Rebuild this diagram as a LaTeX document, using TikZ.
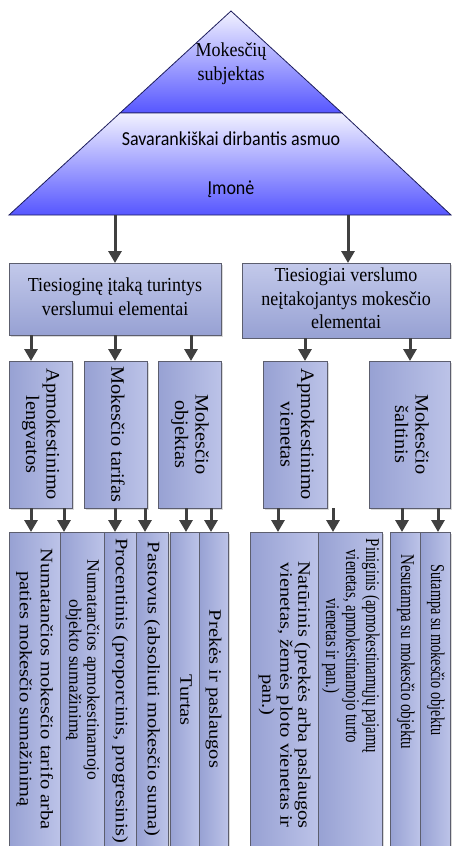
\documentclass[tikz,border=0pt]{standalone}
\usepackage{fontspec}
\setmainfont{Liberation Serif}
\newfontfamily\calibrifont{Carlito}
\usetikzlibrary{arrows.meta,shadows}

\definecolor{pyrtop}{HTML}{F2F2FF}
\definecolor{pyrbot}{HTML}{5656FF}
\definecolor{pyrline}{HTML}{1C1C5C}
\definecolor{boxlight}{HTML}{BCC3E8}
\definecolor{boxdark}{HTML}{97A1D3}
\definecolor{boxline}{HTML}{5C5E6E}
\definecolor{arrgray}{HTML}{404040}

% vertical text, written top to bottom (optional stretch along the text)
\newcommand{\vtxt}[2][1.17]{\rotatebox{-90}{\scalebox{#1}[1]{\begin{tabular}{@{}c@{}}#2\end{tabular}}}}
% horizontal text, a bit taller
\newcommand{\htxt}[1]{\scalebox{1}[1.1]{\begin{tabular}{@{}c@{}}#1\end{tabular}}}

\tikzset{
	pyr/.style={draw=pyrline, line width=0.8pt, top color=pyrtop, bottom color=pyrbot},
	ptext/.style={inner sep=0pt, font=\fontsize{18}{21.5}\selectfont},
	stext/.style={inner sep=0pt, font=\calibrifont\fontsize{18}{21}\selectfont},
	hbox/.style={draw=boxline, line width=0.8pt, top color=boxlight!90!white, bottom color=boxdark,
		anchor=north west, inner sep=2pt, outer sep=0pt, align=center,
		font=\fontsize{18}{21.5}\selectfont,
		drop shadow={shadow xshift=1.5pt, shadow yshift=-1.5pt, opacity=.3}},
	vbox/.style={hbox, left color=boxdark, right color=boxlight, font=\fontsize{19}{20.5}\selectfont},
	ltext/.style={inner sep=0pt, font=\fontsize{17.5}{21}\selectfont},
	lsmall/.style={ltext, font=\fontsize{17.5}{18}\selectfont},
	lbig/.style={ltext, font=\fontsize{19.5}{20}\selectfont},
	arr/.style={draw=arrgray, line width=3pt, -{Triangle[width=13pt,length=12pt]}},
}

\begin{document}
\begin{tikzpicture}[x=1pt, y=-1pt]
\useasboundingbox (0,0) rectangle (451,846);

% pyramid
\coordinate (apex) at (231,11);
\coordinate (ml) at (120,113);
\coordinate (mr) at (342,113);
\coordinate (bl) at (9,215);
\coordinate (br) at (451,215);
\draw[pyr] (apex) -- (mr) -- (ml) -- cycle;
\draw[pyr] (ml) -- (mr) -- (br) -- (bl) -- cycle;

\node[ptext] (subj) at (231,64) {\htxt{Mokesčių\\subjektas}};
\node[stext] (asmuo) at (231,141) {\htxt{Savarankiškai dirbantis asmuo}};
\node[stext] (imone) at (231,190) {\htxt{Įmonė}};

% two groups
\node[hbox, minimum width=212, minimum height=72] (tiesiog) at (9,263) {\htxt{Tiesioginę įtaką turintys\\verslumui elementai}};
\node[hbox, minimum width=208, minimum height=72] (netiesiog) at (242,263) {\htxt{Tiesiogiai verslumo\\neįtakojantys mokesčio\\elementai}};

% elements
\node[vbox, minimum width=63, minimum height=147] (lengv) at (9,361) {\vtxt[1.07]{Apmokestinimo\\lengvatos}};
\node[vbox, minimum width=63, minimum height=147] (tarif) at (84,361) {\vtxt[1.07]{Mokesčio tarifas}};
\node[vbox, minimum width=63, minimum height=147] (objekt) at (158,361) {\vtxt[1.07]{Mokesčio\\objektas}};
\node[vbox, minimum width=64, minimum height=147] (vienet) at (263,361) {\vtxt[1.07]{Apmokestinimo\\vienetas}};
\node[vbox, minimum width=81, minimum height=147] (saltin) at (369,361) {\vtxt[1.07]{Mokesčio\\šaltinis}};

% leaves
\foreach \n/\x/\w in {l1/9/51, l2/60/44, l3/104/32, l4/136/32, l5/170/29,
	l6/199/29, l7/250/68, l8/318/64, l9/390/30, l10/420/30}{
	\node[vbox, minimum width=\w, minimum height=320] (\n) at (\x,532) {};
}

\node[ltext] (t1) at (l1.north |- 0,689) {\vtxt{Numatančios mokesčio tarifo arba\\paties mokesčio sumažinimą}};
\node[lsmall] (t2) at (l2.north |- 0,670) {\vtxt[1.0]{Numatančios apmokestinamojo\\objekto sumažinimą}};
\node[ltext] (t3) at (l3.north |- 0,691) {\vtxt{Procentinis (proporcinis, progresinis)}};
\node[ltext] (t4) at (l4.north |- 0,689) {\vtxt{Pastovus (absoliuti mokesčio suma)}};
\node[ltext] (t5) at (l5.north |- 0,700) {\vtxt{Turtas}};
\node[ltext] (t6) at (l6.north |- 0,689) {\vtxt{Prekės ir paslaugos}};
\node[lsmall] (t7) at (l7.north |- 0,695) {\vtxt{Natūrinis (prekės arba paslaugos\\vienetas, žemės ploto vienetas ir\\pan.)}};
\node[lbig] (t8) at (l8.north |- 0,646) {\vtxt[0.76]{Piniginis (apmokestinamųjų pajamų\\vienetas, apmokestinamojo turto\\vienetas ir pan.)}};
\node[lbig] (t9) at (l9.north |- 0,652) {\vtxt[0.77]{Nesutampa su mokesčio objektu}};
\node[lbig] (t10) at (l10.north |- 0,650) {\vtxt[0.73]{Sutampa su mokesčio objektu}};

% arrows
\foreach \x/\a/\b in {115/bl/tiesiog, 348/bl/netiesiog,
	31/tiesiog/lengv, 115/tiesiog/tarif, 191/tiesiog/objekt,
	305/netiesiog/vienet, 410/netiesiog/saltin}{
	\draw[arr] (\x,0 |- \a.south) -- (\x,0 |- \b.north);
}
\foreach \x/\a/\b in {31/lengv/l1, 64/lengv/l2, 115/tarif/l3, 145/tarif/l4,
	186/objekt/l5, 211/objekt/l6, 278/vienet/l7, 333/vienet/l8,
	402/saltin/l9, 438/saltin/l10}{
	\draw[arr] (\x,0 |- \a.south) -- (\x,0 |- \b.north);
}
\end{tikzpicture}
\end{document}
